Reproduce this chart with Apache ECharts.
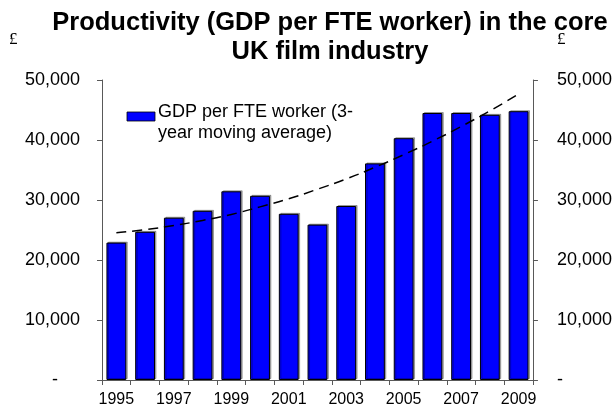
<!DOCTYPE html>
<html>
<head>
<meta charset="utf-8">
<script src="https://cdn.jsdelivr.net/npm/echarts@6/dist/echarts.min.js"></script>
<style>
  html, body { margin: 0; padding: 0; background: #fff; }
  #chart { width: 615px; height: 412px; }
</style>
</head>
<body>
<div id="chart"></div>
<script>
// Years shown on the category axis
const years = ['1995','1996','1997','1998','1999','2000','2001','2002','2003','2004','2005','2006','2007','2008','2009'];
// GDP per FTE worker, 3-year moving average (£)
const gdpPerWorker = [22900, 24700, 27050, 28200, 31450, 30700, 27700, 25900, 29000, 36100, 40300, 44500, 44500, 44200, 44800];
// Polynomial trend line values (£)
const trendValues = [24550, 25050, 25750, 26600, 27600, 28850, 30200, 31800, 33500, 35450, 37550, 39800, 42250, 44850, 47650];
// Value axis range and step
const yMin = 0, yMax = 50000, yStep = 10000;

const seriesName = 'GDP per FTE worker (3-year moving average)';
const legendLines = ['GDP per FTE worker (3-', 'year moving average)'];

const font = '"Liberation Sans", Arial, sans-serif';
const serif = '"Liberation Serif", "Times New Roman", serif';
const axisGrey = '#595959';

const fmt = v => v === 0 ? '{z|-}' : v.toLocaleString('en-GB');

const chart = echarts.init(document.getElementById('chart'), null, { renderer: 'canvas' });

chart.setOption({
  animation: false,
  backgroundColor: '#ffffff',
  title: {
    text: 'Productivity (GDP per FTE worker) in the core\nUK film industry',
    left: 325,
    top: 3,
    textAlign: 'center',
    textStyle: { fontFamily: font, fontWeight: 'bold', fontSize: 25.5, lineHeight: 29, color: '#000' }
  },
  grid: { left: 102, right: 79, top: 80, bottom: 32, containLabel: false },
  xAxis: {
    type: 'category',
    data: years,
    boundaryGap: true,
    axisLine: { lineStyle: { color: axisGrey, width: 1 } },
    axisTick: { show: true, interval: 0, length: 5, lineStyle: { color: axisGrey } },
    axisLabel: { interval: 1, color: '#000', fontFamily: font, fontSize: 16, margin: 12 }
  },
  yAxis: [
    {
      type: 'value', min: yMin, max: yMax, interval: yStep, position: 'left',
      splitLine: { show: false },
      axisLine: { show: true, lineStyle: { color: axisGrey } },
      axisTick: { show: true, length: 5, lineStyle: { color: axisGrey } },
      axisLabel: {
        color: '#000', fontFamily: font, fontSize: 18, margin: 22,
        formatter: fmt,
        rich: { z: { fontFamily: font, fontSize: 18, color: '#000', padding: [0, 22, 0, 0] } }
      }
    },
    {
      type: 'value', min: yMin, max: yMax, interval: yStep, position: 'right',
      splitLine: { show: false },
      axisLine: { show: true, lineStyle: { color: axisGrey } },
      axisTick: { show: true, length: 5, lineStyle: { color: axisGrey } },
      axisLabel: {
        color: '#000', fontFamily: font, fontSize: 18, margin: 24,
        formatter: fmt,
        rich: { z: { fontFamily: font, fontSize: 18, color: '#000' } }
      }
    }
  ],
  series: [
    {
      name: seriesName,
      type: 'bar',
      data: gdpPerWorker,
      barCategoryGap: '31%',
      itemStyle: {
        color: '#0000ff',
        borderColor: '#000',
        borderWidth: 1,
        shadowColor: 'rgba(0,0,0,0.3)',
        shadowOffsetX: 1.5,
        shadowOffsetY: -1,
        shadowBlur: 0
      }
    },
    {
      name: 'Trend',
      type: 'line',
      data: trendValues,
      symbol: 'none',
      smooth: true,
      z: 5,
      lineStyle: { color: '#000', width: 1.5, type: [10, 6] }
    }
  ],
  graphic: [
    { type: 'text', left: 9, top: 31, style: { text: '£', fontFamily: serif, fontSize: 17, fill: '#000' } },
    { type: 'text', left: 557, top: 31, style: { text: '£', fontFamily: serif, fontSize: 17, fill: '#000' } },
    { type: 'rect', shape: { x: 127, y: 112, width: 28, height: 9 }, style: { fill: '#0000ff', stroke: '#000', lineWidth: 0.8 } },
    { type: 'text', left: 158, top: 102, style: { text: legendLines.join('\n'), fontFamily: font, fontSize: 18, lineHeight: 21, fill: '#000' } }
  ]
});
</script>
</body>
</html>
